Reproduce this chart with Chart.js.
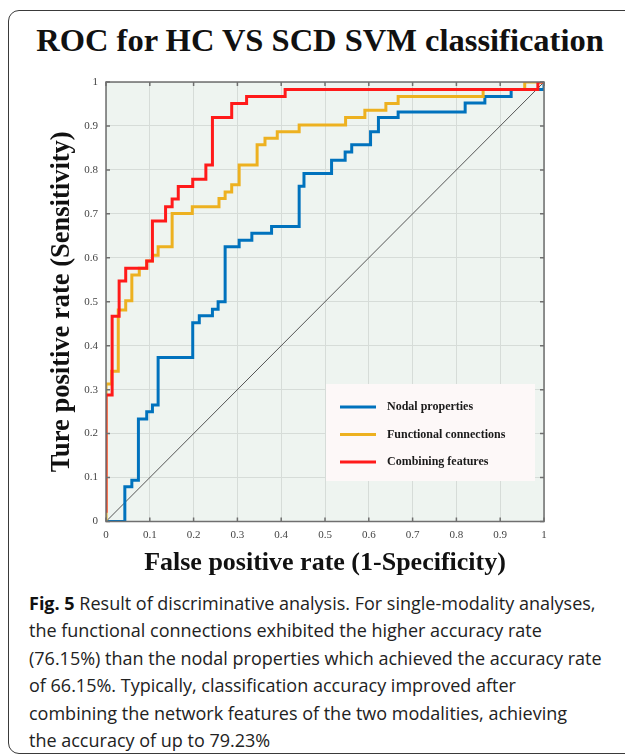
<!DOCTYPE html>
<html>
<head>
<meta charset="utf-8">
<script src="https://cdn.jsdelivr.net/npm/chart.js@4.4.1/dist/chart.umd.min.js"></script>
<style>
  html, body { margin:0; padding:0; width:625px; height:755px; overflow:hidden; background:#fff; }
  #frame { position:absolute; left:8px; top:10px; width:640px; height:744px; border:1.5px solid #3a3a3a; border-radius:11px; box-sizing:border-box; }
  #title { position:absolute; left:0; top:21px; width:640px; text-align:center; font-family:"Liberation Serif", serif; font-weight:bold; font-size:32.5px; line-height:38px; color:#111; white-space:nowrap; }
  #wrap { position:absolute; left:0; top:0; width:625px; height:580px; }
  #caption { position:absolute; left:29px; top:590px; font-family:"Open Sans", sans-serif; font-size:18px; line-height:27.4px; color:#222; white-space:nowrap; }
  #caption b { font-weight:bold; color:#111; }
</style>
</head>
<body>
<div id="frame"></div>
<div id="title">ROC for HC VS SCD SVM classification</div>
<div id="wrap"><canvas id="c" width="625" height="580"></canvas></div>
<div id="caption"><b>Fig. 5</b> Result of discriminative analysis. For single-modality analyses,<br>the functional connections exhibited the higher accuracy rate<br>(76.15%) than the nodal properties which achieved the accuracy rate<br>of 66.15%. Typically, classification accuracy improved after<br>combining the network features of the two modalities, achieving<br>the accuracy of up to 79.23%</div>
<script>
// ---- Data ----
const seriesNames = ['Nodal properties', 'Functional connections', 'Combining features'];
const tickLabels = ['0','0.1','0.2','0.3','0.4','0.5','0.6','0.7','0.8','0.9','1'];

const nodalFpr = [0,0.043,0.043,0.059,0.059,0.074,0.074,0.093,0.093,0.106,0.106,0.119,0.119,0.198,0.198,0.213,0.213,0.243,0.243,0.256,0.256,0.272,0.272,0.304,0.304,0.333,0.333,0.378,0.378,0.441,0.441,0.452,0.452,0.515,0.515,0.546,0.546,0.561,0.561,0.604,0.604,0.622,0.622,0.667,0.667,0.82,0.82,0.865,0.865,0.925,0.925,1,1];
const nodalTpr = [0,0,0.079,0.079,0.094,0.094,0.233,0.233,0.25,0.25,0.265,0.265,0.373,0.373,0.452,0.452,0.468,0.468,0.483,0.483,0.5,0.5,0.625,0.625,0.64,0.64,0.656,0.656,0.671,0.671,0.763,0.763,0.792,0.792,0.822,0.822,0.841,0.841,0.857,0.857,0.887,0.887,0.919,0.919,0.932,0.932,0.952,0.952,0.967,0.967,0.983,0.983,1];

const funcFpr = [0,0,0.013,0.013,0.028,0.028,0.045,0.045,0.059,0.059,0.076,0.076,0.093,0.093,0.106,0.106,0.119,0.119,0.151,0.151,0.197,0.197,0.258,0.258,0.272,0.272,0.287,0.287,0.304,0.304,0.345,0.345,0.363,0.363,0.391,0.391,0.441,0.441,0.547,0.547,0.591,0.591,0.639,0.639,0.667,0.667,0.861,0.861,0.956,0.956,1];
const funcTpr = [0,0.313,0.313,0.342,0.342,0.481,0.481,0.502,0.502,0.561,0.561,0.576,0.576,0.593,0.593,0.606,0.606,0.625,0.625,0.701,0.701,0.716,0.716,0.735,0.735,0.75,0.75,0.766,0.766,0.811,0.811,0.857,0.857,0.872,0.872,0.887,0.887,0.902,0.902,0.919,0.919,0.936,0.936,0.951,0.951,0.967,0.967,0.983,0.983,1,1];

const combFpr = [0,0,0.014,0.014,0.03,0.03,0.045,0.045,0.093,0.093,0.106,0.106,0.136,0.136,0.151,0.151,0.165,0.165,0.198,0.198,0.228,0.228,0.243,0.243,0.287,0.287,0.321,0.321,0.409,0.409,0.986,0.986,1];
const combTpr = [0.02,0.288,0.288,0.467,0.467,0.547,0.547,0.576,0.576,0.593,0.593,0.684,0.684,0.716,0.716,0.734,0.734,0.762,0.762,0.779,0.779,0.811,0.811,0.919,0.919,0.951,0.951,0.967,0.967,0.983,0.983,1,1];

const chanceFpr = [0, 1];
const chanceTpr = [0, 1];

const seriesColors = ['#0072BD', '#EDB120', '#FF1A1A'];

function pts(xs, ys) { return xs.map((x, i) => ({x: x, y: ys[i]})); }

const bgPlugin = {
  id: 'bg',
  beforeDraw(chart) {
    const {ctx, chartArea: a} = chart;
    ctx.save();
    ctx.fillStyle = 'rgb(238,244,240)';
    ctx.fillRect(a.left, a.top, a.right - a.left, a.bottom - a.top);
    ctx.restore();
  }
};

const framePlugin = {
  id: 'frame',
  afterDatasetsDraw(chart) {
    const {ctx, chartArea: a, scales} = chart;
    ctx.save();
    ctx.strokeStyle = '#6f6f6f';
    ctx.lineWidth = 1.5;
    ctx.strokeRect(a.left, a.top, a.right - a.left, a.bottom - a.top);
    const tl = 4;
    scales.x.ticks.forEach(t => {
      const px = scales.x.getPixelForValue(t.value);
      ctx.beginPath();
      ctx.moveTo(px, a.bottom); ctx.lineTo(px, a.bottom - tl);
      ctx.moveTo(px, a.top); ctx.lineTo(px, a.top + tl);
      ctx.stroke();
    });
    scales.y.ticks.forEach(t => {
      const py = scales.y.getPixelForValue(t.value);
      ctx.beginPath();
      ctx.moveTo(a.left, py); ctx.lineTo(a.left + tl, py);
      ctx.moveTo(a.right, py); ctx.lineTo(a.right - tl, py);
      ctx.stroke();
    });
    // legend box
    const w = 209, h = 97;
    const bx = a.right - 9 - w, by = a.bottom - 40.5 - h;
    ctx.fillStyle = '#fdf8f8';
    ctx.fillRect(bx, by, w, h);
    ctx.font = 'bold 12px "Liberation Serif"';
    ctx.textBaseline = 'middle';
    ctx.textAlign = 'left';
    seriesNames.forEach((name, i) => {
      const y = by + 23 + i * 27.5;
      ctx.strokeStyle = seriesColors[i];
      ctx.lineWidth = 3;
      ctx.beginPath();
      ctx.moveTo(bx + 14, y); ctx.lineTo(bx + 50, y);
      ctx.stroke();
      ctx.fillStyle = '#1a1a1a';
      ctx.fillText(name, bx + 61, y);
    });
    ctx.restore();
  }
};

new Chart(document.getElementById('c'), {
  type: 'line',
  data: {
    datasets: [
      { label: seriesNames[2], data: pts(combFpr, combTpr), borderColor: seriesColors[2], borderWidth: 3, pointRadius: 0, fill: false, tension: 0 },
      { label: seriesNames[1], data: pts(funcFpr, funcTpr), borderColor: seriesColors[1], borderWidth: 3, pointRadius: 0, fill: false, tension: 0 },
      { label: seriesNames[0], data: pts(nodalFpr, nodalTpr), borderColor: seriesColors[0], borderWidth: 3, pointRadius: 0, fill: false, tension: 0 },
      { label: 'chance', data: pts(chanceFpr, chanceTpr), borderColor: '#555', borderWidth: 1, pointRadius: 0, fill: false, tension: 0 }
    ]
  },
  options: {
    responsive: false,
    animation: false,
    devicePixelRatio: 1,
    layout: { padding: { top: 82, left: 44, right: 81, bottom: 0 } },
    plugins: { legend: { display: false }, tooltip: { enabled: false }, title: { display: false } },
    scales: {
      x: {
        type: 'linear', min: 0, max: 1,
        afterFit: s => { s.height = 58.5; },
        grid: { color: 'rgb(214,220,216)', lineWidth: 1, drawTicks: false },
        border: { display: false },
        ticks: { stepSize: 0.1, padding: 7, color: '#444', font: { family: '"Liberation Serif"', size: 11 }, maxRotation: 0, autoSkip: false,
                 callback: (v, i) => tickLabels[i] },
        title: { display: true, text: 'False positive rate (1-Specificity)', color: '#111', font: { family: '"Liberation Serif"', size: 26, weight: 'bold' }, padding: { top: 0, bottom: 1.5 } }
      },
      y: {
        type: 'linear', min: 0, max: 1,
        afterFit: s => { s.width = 62; },
        grid: { color: 'rgb(214,220,216)', lineWidth: 1, drawTicks: false },
        border: { display: false },
        ticks: { stepSize: 0.1, padding: 8, color: '#444', font: { family: '"Liberation Serif"', size: 11 }, autoSkip: false,
                 callback: (v, i) => tickLabels[i] },
        title: { display: true, text: 'Ture positive rate (Sensitivity)', color: '#111', font: { family: '"Liberation Serif"', size: 26.5, weight: 'bold' }, padding: { top: 2, bottom: 0 } }
      }
    }
  },
  plugins: [bgPlugin, framePlugin]
});
</script>
</body>
</html>
